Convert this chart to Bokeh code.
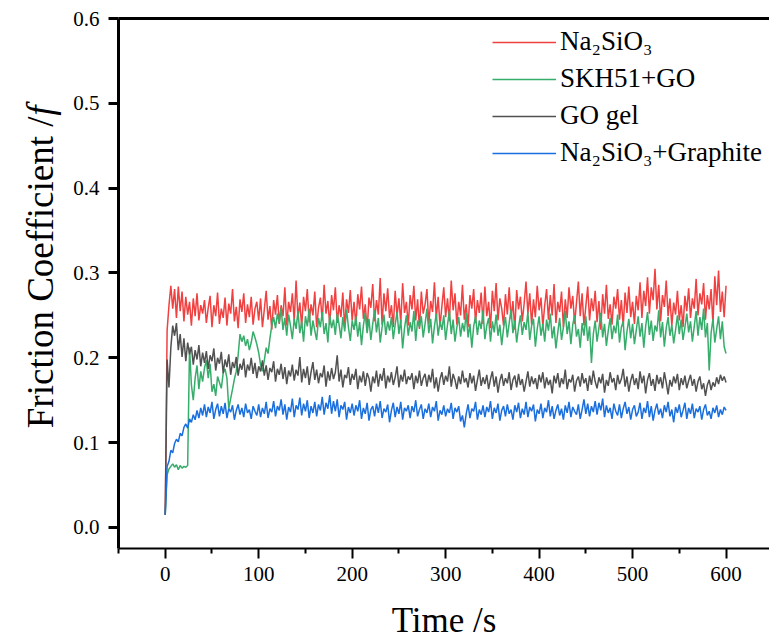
import math
from bokeh.plotting import figure
from bokeh.models import (Range1d, FixedTicker, LinearAxis, Legend, LegendItem,
                          Label, ColumnDataSource, NumeralTickFormatter)
from bokeh.embed import file_html
from bokeh.resources import INLINE

# ---------------- data ----------------
time_s = list(range(0, 601, 2))

x_ticks = [0, 100, 200, 300, 400, 500, 600]
x_minor = [-50, 50, 150, 250, 350, 450, 550, 650]
y_ticks = [0.0, 0.1, 0.2, 0.3, 0.4, 0.5, 0.6]

labels = ["Na\u2082SiO\u2083", "SKH51+GO", "GO gel", "Na\u2082SiO\u2083+Graphite"]
colors = ["#F14040", "#37AD6B", "#515151", "#1A6FDF"]

na2sio3 = [
    0.015, 0.232, 0.262, 0.285, 0.258, 0.281, 0.247, 0.284, 0.255, 0.278, 0.243,
    0.272, 0.251, 0.266, 0.238, 0.270, 0.249, 0.276, 0.244, 0.262, 0.252,
    0.268, 0.241, 0.259, 0.273, 0.236, 0.262, 0.249, 0.277, 0.240, 0.258,
    0.247, 0.271, 0.238, 0.264, 0.252, 0.281, 0.243, 0.260, 0.235, 0.269,
    0.254, 0.276, 0.241, 0.263, 0.248, 0.272, 0.239, 0.258, 0.266, 0.244,
    0.270, 0.236, 0.257, 0.279, 0.245, 0.261, 0.233, 0.268, 0.251, 0.274,
    0.240, 0.262, 0.249, 0.283, 0.238, 0.266, 0.254, 0.276, 0.243, 0.291,
    0.247, 0.265, 0.237, 0.272, 0.255, 0.281, 0.242, 0.263, 0.250, 0.278,
    0.236, 0.259, 0.271, 0.244, 0.286, 0.252, 0.267, 0.239, 0.274, 0.256,
    0.283, 0.241, 0.262, 0.248, 0.277, 0.235, 0.269, 0.253, 0.280, 0.244,
    0.266, 0.238, 0.275, 0.257, 0.284, 0.246, 0.263, 0.232, 0.271, 0.259,
    0.287, 0.243, 0.268, 0.251, 0.294, 0.239, 0.276, 0.255, 0.282, 0.247,
    0.262, 0.236, 0.279, 0.249, 0.270, 0.241, 0.288, 0.253, 0.266, 0.238,
    0.274, 0.257, 0.285, 0.244, 0.269, 0.234, 0.278, 0.252, 0.263, 0.281,
    0.240, 0.267, 0.254, 0.289, 0.246, 0.272, 0.237, 0.261, 0.283, 0.248,
    0.270, 0.243, 0.291, 0.256, 0.276, 0.239, 0.266, 0.250, 0.286, 0.245,
    0.263, 0.236, 0.274, 0.258, 0.281, 0.241, 0.268, 0.253, 0.277, 0.240,
    0.284, 0.249, 0.266, 0.235, 0.279, 0.255, 0.288, 0.244, 0.270, 0.258,
    0.238, 0.275, 0.251, 0.283, 0.246, 0.267, 0.233, 0.280, 0.257, 0.272,
    0.243, 0.264, 0.290, 0.252, 0.276, 0.239, 0.269, 0.248, 0.285, 0.256,
    0.271, 0.237, 0.262, 0.281, 0.245, 0.274, 0.250, 0.287, 0.241, 0.266,
    0.254, 0.278, 0.236, 0.269, 0.247, 0.283, 0.258, 0.273, 0.240, 0.265,
    0.290, 0.249, 0.276, 0.238, 0.261, 0.284, 0.244, 0.270, 0.255, 0.279,
    0.242, 0.267, 0.233, 0.275, 0.252, 0.286, 0.246, 0.263, 0.239, 0.272,
    0.258, 0.281, 0.245, 0.268, 0.237, 0.277, 0.253, 0.284, 0.248, 0.266,
    0.240, 0.273, 0.256, 0.289, 0.247, 0.279, 0.261, 0.295, 0.252, 0.283,
    0.268, 0.305, 0.257, 0.286, 0.243, 0.274, 0.260, 0.291, 0.249, 0.270,
    0.238, 0.265, 0.251, 0.279, 0.244, 0.262, 0.236, 0.273, 0.255, 0.282,
    0.247, 0.270, 0.258, 0.293, 0.250, 0.276, 0.263, 0.288, 0.245, 0.274,
    0.257, 0.281, 0.240, 0.296, 0.262, 0.303, 0.254, 0.278, 0.248, 0.285,
]

skh51_go = [
    0.015, 0.062, 0.069, 0.072, 0.075, 0.071, 0.074, 0.068, 0.073, 0.070, 0.072,
    0.071, 0.073, 0.212, 0.168, 0.150, 0.176, 0.191, 0.163, 0.184, 0.172,
    0.188, 0.197, 0.176, 0.193, 0.160, 0.169, 0.155, 0.178, 0.171, 0.164,
    0.182, 0.187, 0.176, 0.140, 0.152, 0.163, 0.175, 0.184, 0.203, 0.228,
    0.219, 0.226, 0.214, 0.222, 0.209, 0.218, 0.231, 0.224, 0.216, 0.206,
    0.192, 0.184, 0.197, 0.212, 0.205, 0.223, 0.238, 0.248, 0.235, 0.252,
    0.241, 0.259, 0.233, 0.247, 0.226, 0.251, 0.238, 0.222, 0.246, 0.234,
    0.255, 0.229, 0.243, 0.219, 0.249, 0.237, 0.258, 0.226, 0.244, 0.232,
    0.221, 0.247, 0.236, 0.254, 0.228, 0.241, 0.218, 0.250, 0.235, 0.245,
    0.227, 0.252, 0.239, 0.223, 0.248, 0.231, 0.257, 0.236, 0.220, 0.244,
    0.233, 0.249, 0.225, 0.242, 0.215, 0.238, 0.253, 0.229, 0.246, 0.221,
    0.240, 0.256, 0.230, 0.247, 0.218, 0.236, 0.251, 0.227, 0.243, 0.232,
    0.248, 0.222, 0.239, 0.254, 0.228, 0.245, 0.211, 0.235, 0.250, 0.226,
    0.242, 0.231, 0.255, 0.220, 0.244, 0.236, 0.249, 0.224, 0.240, 0.258,
    0.229, 0.246, 0.217, 0.237, 0.252, 0.226, 0.243, 0.233, 0.250, 0.221,
    0.239, 0.255, 0.228, 0.245, 0.219, 0.236, 0.248, 0.225, 0.241, 0.231,
    0.253, 0.224, 0.240, 0.212, 0.237, 0.249, 0.227, 0.244, 0.234, 0.256,
    0.222, 0.238, 0.247, 0.219, 0.243, 0.230, 0.251, 0.226, 0.239, 0.215,
    0.235, 0.248, 0.224, 0.241, 0.257, 0.229, 0.244, 0.218, 0.236, 0.250,
    0.227, 0.242, 0.233, 0.254, 0.221, 0.238, 0.246, 0.213, 0.234, 0.249,
    0.226, 0.240, 0.219, 0.245, 0.232, 0.252, 0.223, 0.237, 0.211, 0.230,
    0.247, 0.221, 0.236, 0.255, 0.228, 0.243, 0.216, 0.239, 0.250, 0.225,
    0.234, 0.212, 0.241, 0.226, 0.249, 0.220, 0.237, 0.194, 0.228, 0.244,
    0.219, 0.235, 0.253, 0.224, 0.240, 0.214, 0.232, 0.247, 0.222, 0.238,
    0.229, 0.251, 0.218, 0.236, 0.243, 0.209, 0.231, 0.246, 0.223, 0.240,
    0.216, 0.233, 0.249, 0.225, 0.241, 0.212, 0.237, 0.254, 0.227, 0.244,
    0.220, 0.238, 0.231, 0.256, 0.224, 0.242, 0.213, 0.235, 0.248, 0.226,
    0.239, 0.217, 0.233, 0.250, 0.228, 0.245, 0.221, 0.236, 0.252, 0.230,
    0.243, 0.219, 0.237, 0.255, 0.226, 0.248, 0.233, 0.258, 0.224, 0.241,
    0.185, 0.229, 0.246, 0.218, 0.234, 0.249, 0.222, 0.243, 0.213, 0.205,
]

go_gel = [
    0.015, 0.198, 0.165, 0.212, 0.238, 0.226, 0.241, 0.209, 0.228, 0.201, 0.223,
    0.196, 0.218, 0.204, 0.213, 0.192, 0.209, 0.198, 0.215, 0.190, 0.206,
    0.194, 0.208, 0.187, 0.203, 0.196, 0.211, 0.185, 0.200, 0.193, 0.207,
    0.182, 0.198, 0.189, 0.204, 0.180, 0.195, 0.188, 0.201, 0.179, 0.193,
    0.186, 0.199, 0.177, 0.192, 0.185, 0.200, 0.181, 0.194, 0.176, 0.190,
    0.184, 0.197, 0.179, 0.191, 0.174, 0.188, 0.183, 0.196, 0.172, 0.187,
    0.180, 0.193, 0.175, 0.189, 0.169, 0.185, 0.178, 0.192, 0.173, 0.186,
    0.179, 0.201, 0.171, 0.187, 0.176, 0.190, 0.168, 0.183, 0.195, 0.174,
    0.186, 0.170, 0.182, 0.177, 0.191, 0.166, 0.184, 0.173, 0.188, 0.175,
    0.183, 0.203, 0.172, 0.186, 0.165, 0.180, 0.176, 0.189, 0.168, 0.181,
    0.174, 0.187, 0.163, 0.179, 0.171, 0.184, 0.167, 0.182, 0.176, 0.160,
    0.178, 0.170, 0.185, 0.166, 0.181, 0.173, 0.188, 0.164, 0.179, 0.171,
    0.183, 0.168, 0.177, 0.190, 0.165, 0.180, 0.172, 0.186, 0.169, 0.178,
    0.174, 0.182, 0.163, 0.179, 0.170, 0.185, 0.167, 0.176, 0.181, 0.166,
    0.180, 0.171, 0.187, 0.164, 0.177, 0.160, 0.175, 0.183, 0.168, 0.179,
    0.172, 0.190, 0.166, 0.181, 0.174, 0.163, 0.178, 0.169, 0.185, 0.171,
    0.176, 0.165, 0.182, 0.170, 0.179, 0.161, 0.174, 0.186, 0.167, 0.177,
    0.169, 0.180, 0.163, 0.175, 0.184, 0.166, 0.178, 0.159, 0.173, 0.181,
    0.167, 0.176, 0.170, 0.183, 0.162, 0.174, 0.179, 0.165, 0.181, 0.168,
    0.175, 0.160, 0.172, 0.184, 0.166, 0.178, 0.169, 0.176, 0.163, 0.180,
    0.171, 0.183, 0.164, 0.177, 0.168, 0.174, 0.158, 0.179, 0.170, 0.182,
    0.165, 0.176, 0.169, 0.186, 0.163, 0.175, 0.171, 0.180, 0.160, 0.173,
    0.178, 0.166, 0.182, 0.170, 0.176, 0.161, 0.179, 0.168, 0.185, 0.172,
    0.164, 0.177, 0.170, 0.181, 0.159, 0.174, 0.167, 0.183, 0.171, 0.176,
    0.162, 0.180, 0.169, 0.175, 0.187, 0.166, 0.178, 0.160, 0.173, 0.181,
    0.168, 0.176, 0.163, 0.184, 0.170, 0.179, 0.158, 0.174, 0.182, 0.167,
    0.175, 0.161, 0.180, 0.169, 0.177, 0.164, 0.183, 0.171, 0.157, 0.174,
    0.166, 0.178, 0.170, 0.181, 0.162, 0.176, 0.168, 0.179, 0.164, 0.173,
    0.180, 0.167, 0.175, 0.160, 0.172, 0.178, 0.163, 0.170, 0.155, 0.168,
    0.174, 0.162, 0.171, 0.166, 0.177, 0.169, 0.180, 0.173, 0.178, 0.171,
]

na2sio3_graphite = [
    0.015, 0.072, 0.078, 0.091, 0.088, 0.099, 0.104, 0.101, 0.111, 0.108, 0.118,
    0.122, 0.117, 0.128, 0.124, 0.133, 0.127, 0.138, 0.129, 0.141, 0.132,
    0.145, 0.130, 0.142, 0.135, 0.148, 0.128, 0.139, 0.146, 0.131, 0.143,
    0.134, 0.147, 0.129, 0.140, 0.136, 0.144, 0.127, 0.138, 0.145, 0.133,
    0.141, 0.130, 0.146, 0.135, 0.139, 0.128, 0.143, 0.137, 0.132, 0.145,
    0.130, 0.141, 0.134, 0.148, 0.129, 0.140, 0.136, 0.149, 0.131, 0.143,
    0.138, 0.151, 0.133, 0.145, 0.127, 0.142, 0.136, 0.152, 0.130, 0.144,
    0.139, 0.153, 0.132, 0.146, 0.137, 0.150, 0.129, 0.143, 0.135, 0.148,
    0.131, 0.145, 0.138, 0.154, 0.133, 0.147, 0.140, 0.156, 0.134, 0.149,
    0.137, 0.151, 0.130, 0.144, 0.139, 0.148, 0.127, 0.142, 0.135, 0.146,
    0.132, 0.144, 0.137, 0.150, 0.128, 0.141, 0.134, 0.147, 0.126, 0.139,
    0.143, 0.131, 0.146, 0.135, 0.149, 0.129, 0.140, 0.136, 0.145, 0.124,
    0.138, 0.147, 0.130, 0.142, 0.134, 0.148, 0.127, 0.141, 0.137, 0.144,
    0.129, 0.143, 0.136, 0.150, 0.131, 0.139, 0.145, 0.128, 0.140, 0.135,
    0.146, 0.130, 0.142, 0.137, 0.149, 0.126, 0.138, 0.133, 0.144, 0.131,
    0.140, 0.135, 0.147, 0.128, 0.141, 0.136, 0.143, 0.125, 0.132, 0.118,
    0.134, 0.145, 0.129, 0.140, 0.137, 0.148, 0.127, 0.139, 0.133, 0.144,
    0.130, 0.142, 0.136, 0.149, 0.128, 0.141, 0.135, 0.146, 0.126, 0.138,
    0.143, 0.131, 0.145, 0.134, 0.139, 0.127, 0.144, 0.136, 0.147, 0.129,
    0.140, 0.133, 0.148, 0.130, 0.142, 0.137, 0.145, 0.125, 0.139, 0.134,
    0.146, 0.129, 0.141, 0.136, 0.150, 0.131, 0.143, 0.128, 0.138, 0.145,
    0.132, 0.140, 0.127, 0.144, 0.135, 0.148, 0.130, 0.142, 0.137, 0.133,
    0.145, 0.128, 0.139, 0.151, 0.134, 0.146, 0.131, 0.143, 0.136, 0.149,
    0.133, 0.147, 0.138, 0.152, 0.130, 0.144, 0.135, 0.141, 0.128, 0.146,
    0.137, 0.132, 0.145, 0.129, 0.140, 0.148, 0.134, 0.142, 0.127, 0.139,
    0.144, 0.131, 0.136, 0.147, 0.128, 0.141, 0.135, 0.149, 0.130, 0.143,
    0.126, 0.138, 0.146, 0.133, 0.140, 0.129, 0.144, 0.136, 0.148, 0.131,
    0.139, 0.124, 0.142, 0.135, 0.145, 0.130, 0.138, 0.147, 0.128, 0.141,
    0.134, 0.146, 0.129, 0.140, 0.136, 0.143, 0.127, 0.139, 0.145, 0.132,
    0.137, 0.128, 0.141, 0.135, 0.144, 0.130, 0.139, 0.133, 0.142, 0.138,
]

series = [na2sio3, skh51_go, go_gel, na2sio3_graphite]

# ---------------- figure ----------------
FONT = "'Liberation Serif', 'Times New Roman', Times, serif"

p = figure(width=769, height=642, output_backend="svg", toolbar_location=None,
           x_range=Range1d(-50, 646.5), y_range=Range1d(-0.0248, 0.6),
           min_border_left=118, min_border_right=0, min_border_top=18,
           min_border_bottom=94, background_fill_color="white",
           border_fill_color="white")
p.outline_line_color = None
p.xgrid.visible = False
p.ygrid.visible = False

renderers = []
for vals, col in zip(series, colors):
    src = ColumnDataSource(dict(t=time_s[:len(vals)], f=vals))
    r = p.line("t", "f", source=src, line_color=col, line_width=1.5)
    renderers.append(r)

# x axis
xa = p.xaxis[0]
xa.ticker = FixedTicker(ticks=x_ticks, minor_ticks=x_minor)
xa.axis_line_width = 2
xa.major_tick_line_width = 2
xa.minor_tick_line_width = 2
xa.major_tick_out = 10
xa.major_tick_in = 0
xa.minor_tick_out = 5
xa.minor_tick_in = 0
xa.major_label_text_font = FONT
xa.major_label_text_font_style = "normal"
xa.major_label_text_font_size = "21px"
xa.major_label_text_color = "black"
xa.major_label_standoff = 8
xa.axis_label = "Time /s"
xa.axis_label_text_font = FONT
xa.axis_label_text_font_size = "35px"
xa.axis_label_text_font_style = "normal"
xa.axis_label_text_color = "black"
xa.axis_label_standoff = 17

# y axis
ya = p.yaxis[0]
ya.ticker = FixedTicker(ticks=y_ticks)
ya.formatter = NumeralTickFormatter(format="0.0")
ya.axis_line_width = 3
ya.major_tick_line_width = 3
ya.major_tick_out = 10
ya.major_tick_in = 0
ya.minor_tick_line_color = None
ya.major_label_text_font = FONT
ya.major_label_text_font_style = "normal"
ya.major_label_text_font_size = "21px"
ya.major_label_text_color = "black"
ya.major_label_standoff = 9

# top frame line
top = LinearAxis(ticker=FixedTicker(ticks=[]), axis_line_width=3,
                 major_tick_line_color=None, minor_tick_line_color=None,
                 major_label_text_font_size="0px")
p.add_layout(top, "above")

# y axis title: upright part (left panel) + italic f (top panel)
p.add_layout(Label(x=-133.2, y=0.117, text="Friction Coefficient /",
                   text_font=FONT, text_font_size="37px", angle=math.pi / 2,
                   text_align="left", text_baseline="alphabetic",
                   text_color="black"), "left")
p.add_layout(Label(x=-133.2, y=0.117 + 8.444 * 37 / 848, text="f",
                   text_font=FONT, text_font_size="37px", text_font_style="italic",
                   angle=math.pi / 2, text_align="left",
                   text_baseline="alphabetic", text_color="black"), "above")

# legend
legend = Legend(items=[LegendItem(label=l, renderers=[r]) for l, r in zip(labels, renderers)],
                location=(374, 380), glyph_width=64, glyph_height=30,
                label_height=30, label_standoff=4, spacing=6, padding=0,
                margin=0, border_line_color=None, background_fill_alpha=0,
                label_text_font=FONT, label_text_font_style="normal",
                label_text_font_size="27px", label_text_color="black")
p.add_layout(legend, "center")

open("out.html", "w").write(file_html(p, INLINE))
